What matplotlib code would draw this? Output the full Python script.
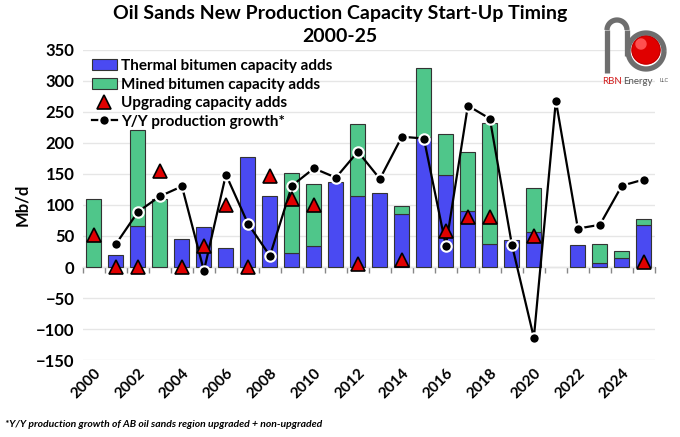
import numpy as np
import matplotlib.pyplot as plt

plt.rcParams['font.family'] = ['Lato', 'DejaVu Sans']
plt.rcParams['font.weight'] = 'bold'

# data (Mb/d)
years = list(range(2000, 2026))
thermal = [0, 20, 66, 0, 45, 65, 30, 177, 115, 22, 34, 137, 115, 120, 85, 210,
           148, 90, 37, 44, 57, 0, 36, 7, 15, 68]
mined = [110, 0, 155, 110, 0, 0, 0, 0, 0, 130, 100, 0, 116, 0, 14, 110,
         67, 95, 195, 0, 70, 0, 0, 30, 11, 9]
upgrading = [52, 0, 0, 155, 0, 34, 100, 0, 147, 110, 100, np.nan, 5, np.nan, 11, np.nan,
             58, 80, 80, np.nan, 50, np.nan, np.nan, np.nan, np.nan, 8]
growth = [np.nan, 37, 89, 114, 130, -6, 149, 70, 18, 131, 159, 144, 186, 142, 210, 207,
          34, 260, 239, 36, -114, 268, 62, 68, 131, 141]

x = np.arange(len(years))
th = np.array(thermal, dtype=float)
mi = np.array(mined, dtype=float)
blue = '#4a4af2'
green = '#4fc68a'

fig = plt.figure(figsize=(6.8, 4.37), dpi=100)
ax = fig.add_axes([0.122, 0.176, 0.841, 0.71])

# hide empty segments so no zero-height outlines are drawn
b1 = ax.bar(x, np.where(th > 0, th, np.nan), width=0.68, color=blue, edgecolor='#333333',
            linewidth=0.8, label='Thermal bitumen capacity adds', zorder=2)
b2 = ax.bar(x, np.where(mi > 0, mi, np.nan), width=0.68, bottom=th, color=green,
            edgecolor='#333333', linewidth=0.8, label='Mined bitumen capacity adds', zorder=2)
l1, = ax.plot(x, upgrading, linestyle='none', marker='^', markersize=10, color='#e00000',
              markeredgecolor='black', markeredgewidth=1.2, label='Upgrading capacity adds', zorder=5)
l2, = ax.plot(x, growth, color='black', linewidth=1.6, marker='o', markersize=7.5,
              markerfacecolor='black', markeredgecolor='white', markeredgewidth=1.5,
              label='Y/Y production growth*', zorder=4)

ax.set_xlim(-0.5, len(years) - 0.5)
ax.set_ylim(-150, 350)
ax.set_yticks(np.arange(-150, 351, 50))
ax.grid(axis='y', color='#e6e6e6', linewidth=1, zorder=0)
for s in ['left', 'right', 'top', 'bottom']:
    ax.spines[s].set_visible(False)
ax.tick_params(axis='y', length=0, labelsize=12, pad=6)
ax.set_ylabel('Mb/d', fontsize=12, fontweight='bold', labelpad=4)

ax.set_xticks(x[::2])
ax.set_xticklabels([str(y) for y in years[::2]], rotation=45, ha='right',
                   rotation_mode='anchor', fontsize=11)
ax.tick_params(axis='x', length=0, pad=4)

# zero line with category boundary ticks
sec = ax.secondary_xaxis(0, transform=ax.transData)
sec.set_xticks(np.arange(-0.5, len(years), 1))
sec.set_xticklabels([])
sec.tick_params(axis='x', length=4, color='#888888', width=1)
sec.spines['bottom'].set_color('#888888')

ax.legend([b1, b2, l1, l2], [h.get_label() for h in [b1, b2, l1, l2]],
          loc='upper left', bbox_to_anchor=(0.0, 1.0), fontsize=11, frameon=False,
          handlelength=1.6, handletextpad=0.3, labelspacing=0.3, borderaxespad=0.2)

fig.text(0.5, 0.988, 'Oil Sands New Production Capacity Start-Up Timing\n2000-25',
         ha='center', va='top', fontsize=14, fontweight='bold', linespacing=1.4)
fig.text(0.007, 0.022, '*Y/Y production growth of AB oil sands region upgraded + non-upgraded',
         fontsize=7.5, style='italic', fontweight='bold')

# RBN Energy logo (approximation), drawn in a pixel-like box
lg = fig.add_axes([595 / 680, 1 - 90 / 437, 75 / 680, 80 / 437])
lg.set_xlim(595, 670)
lg.set_ylim(90, 10)
lg.axis('off')
pipe = dict(color='#6e6e6e', linewidth=3.8, solid_capstyle='butt')
t = np.linspace(0, np.pi, 40)
lg.plot([607, 607], [73, 30], **pipe)
lg.plot(617 + 10 * np.cos(t), 30 - 10 * np.sin(t), **pipe)
lg.plot([627, 627], [30, 56], **pipe)
u = np.linspace(0, 2 * np.pi, 80)
lg.plot(646 + 18 * np.cos(u), 51 + 18 * np.sin(u), **pipe)
lg.plot(646 + 14 * np.cos(u), 50 + 14 * np.sin(u), color='#c00000', linewidth=0.6)
lg.fill(646 + 14 * np.cos(u), 50 + 14 * np.sin(u), color='#e00000')
lg.fill(641 + 5 * np.cos(u), 44 + 5 * np.sin(u), color='#ff5050')
fig.text(602 / 680, 1 - 81 / 437, 'RBN', color='#d42020', fontsize=7, fontweight='normal', va='center')
fig.text(623 / 680, 1 - 81 / 437, 'Energy', color='#555555', fontsize=7, fontweight='normal', va='center')
fig.text(659 / 680, 1 - 81 / 437, 'LLC', color='#555555', fontsize=4, fontweight='normal', va='center')

fig.savefig('out.png', dpi=100)
